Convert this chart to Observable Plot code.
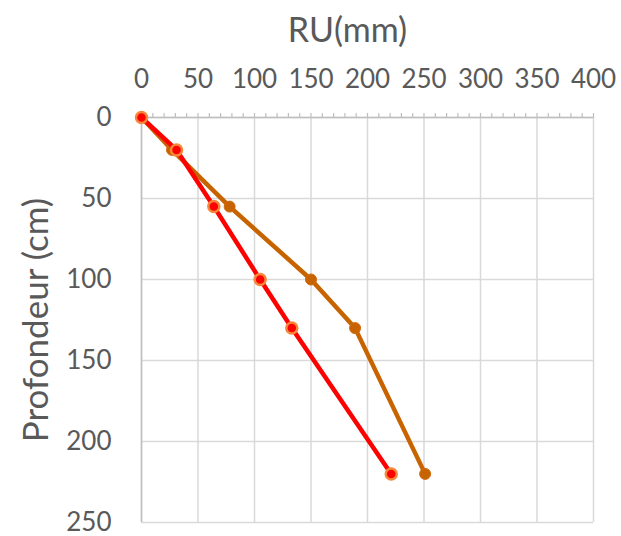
<!DOCTYPE html>
<html>
<head>
<meta charset="utf-8">
<script src="https://cdn.jsdelivr.net/npm/d3@7"></script>
<script src="https://cdn.jsdelivr.net/npm/@observablehq/plot@0.6"></script>
<style>
  html, body { margin: 0; padding: 0; background: #fff; }
  #chart svg { display: block; overflow: visible; }
</style>
</head>
<body>
<div id="chart"></div>
<script>
// Depth profile of available water (RU) for two soil profiles
const depths   = [0, 20, 55, 100, 130, 220];       // Profondeur (cm)
const ruRed    = [0, 31, 64, 105, 133, 221];       // RU (mm), red profile
const ruOrange = [0, 27, 78, 150, 189, 251];       // RU (mm), orange profile
const xTicks = [0, 50, 100, 150, 200, 250, 300, 350, 400];
const yTicks = [0, 50, 100, 150, 200, 250];

const red = depths.map((d, i) => ({depth: d, ru: ruRed[i]}));
const orange = depths.map((d, i) => ({depth: d, ru: ruOrange[i]}));
const minorX = d3.range(0, 401, 10);

const textColor = "#595959";
const font = "Lato, 'Open Sans', sans-serif";

const chart = Plot.plot({
  width: 621,
  height: 536,
  marginTop: 117,
  marginLeft: 141,
  marginRight: 28,
  marginBottom: 14,
  style: {fontFamily: font, fontSize: "26px", color: textColor, background: "#fff"},
  x: {domain: [0, 400]},
  y: {domain: [0, 250], reverse: true},
  marks: [
    Plot.gridX(xTicks, {stroke: "#d9d9d9", strokeOpacity: 1, strokeWidth: 1.5}),
    Plot.gridY(yTicks, {stroke: "#d9d9d9", strokeOpacity: 1, strokeWidth: 1.5}),
    Plot.ruleX([0], {stroke: "#bfbfbf", strokeWidth: 1.5}),
    Plot.ruleY([0], {stroke: "#bfbfbf", strokeWidth: 1.5}),
    // minor ticks along the top axis
    Plot.axisX(minorX, {anchor: "top", tickSize: 5, stroke: "#bfbfbf", strokeWidth: 1.2, label: null, text: null}),
    Plot.axisX(xTicks, {anchor: "top", tickSize: 0, tickPadding: 30, fill: textColor,
      label: "RU(mm)", labelAnchor: "center", labelArrow: "none", labelOffset: 100}),
    Plot.axisY(yTicks, {anchor: "left", tickSize: 0, tickPadding: 30, fill: textColor,
      label: "Profondeur (cm)", labelAnchor: "center", labelArrow: "none", labelOffset: 118}),
    Plot.line(orange, {x: "ru", y: "depth", stroke: "#c86400", strokeWidth: 4.5}),
    Plot.dot(orange, {x: "ru", y: "depth", r: 5.5, fill: "#c86400", stroke: "#d06a10", strokeWidth: 1}),
    Plot.line(red, {x: "ru", y: "depth", stroke: "#ff0000", strokeWidth: 4.5}),
    Plot.dot(red, {x: "ru", y: "depth", r: 5.5, fill: "#ff0000", stroke: "#f5883a", strokeWidth: 2.5})
  ]
});

// larger type for the two axis titles; the x title sits a little left of the frame centre
chart.querySelectorAll("g[aria-label='x-axis label'] text")
  .forEach(t => { t.style.fontSize = "34px"; t.setAttribute("fill", textColor); t.setAttribute("dx", "-20"); });
chart.querySelectorAll("g[aria-label='y-axis label'] text")
  .forEach(t => { t.style.fontSize = "35px"; t.setAttribute("fill", textColor); });

document.getElementById("chart").appendChild(chart);
</script>
</body>
</html>
